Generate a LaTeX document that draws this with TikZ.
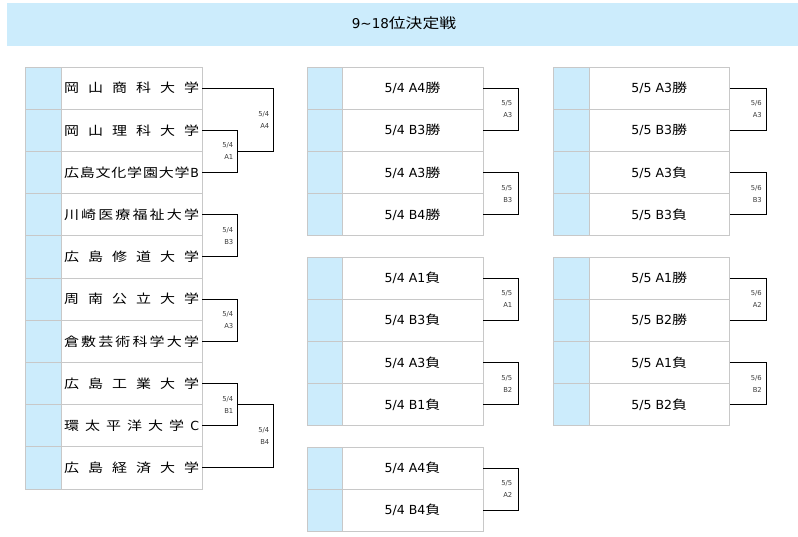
\documentclass[tikz,border=0pt]{standalone}
\usepackage{fontspec}
\setmainfont{DejaVu Sans}
\newfontfamily\cjkfont[FakeStretch=1.2]{Noto Sans CJK JP}
\newcommand\jp[1]{{\cjkfont #1}}
\newcommand\namebox[1]{\makebox[135pt][s]{#1}}
\usetikzlibrary{calc}
\definecolor{hdrblue}{RGB}{204,236,252}
\definecolor{cellgray}{RGB}{200,200,200}
\definecolor{lblgray}{RGB}{60,60,60}
\tikzset{
  namecell/.style={draw=cellgray, line width=0.9pt, minimum width=141pt, minimum height=42.2pt, inner sep=0pt, font=\fontsize{12.5}{14}\selectfont},
  midcell/.style={namecell, minimum width=141pt},
  bluecell/.style={draw=cellgray, line width=0.9pt, fill=hdrblue, minimum width=36pt, minimum height=42.2pt, inner sep=0pt},
  conn/.style={draw=black, line width=0.9pt},
  lbl/.style={font=\fontsize{6.8}{12}\selectfont, text=lblgray, align=right, anchor=east, inner sep=0pt},
}
\newcommand\bracket[6]{% top, bottom, x-coord name, mid name, label, gap
  \draw[conn] (#1) -- (#1 -| #3) -- (#2 -| #3) -- (#2);
  \coordinate (#4) at ($(#1 -| #3)!0.5!(#2 -| #3)$);
  \node[lbl] at ($(#4)+(-#6,0)$) {#5};
}
\begin{document}
\begin{tikzpicture}[x=1pt,y=-1pt]
\useasboundingbox (0,0) rectangle (798,536);
% header
\fill[hdrblue] (7,3) rectangle (798,46);
\node[font=\fontsize{13.5}{15}\selectfont, inner sep=0pt] (title) at (404,23.5) {9\textasciitilde 18{\fontsize{14}{15}\selectfont\jp{位決定戦}}};

% x positions of bracket verticals
\coordinate (xA) at (237,0);
\coordinate (xB) at (273,0);
\coordinate (xM) at (518,0);
\coordinate (xR) at (766,0);

% left table
\foreach \k/\txt in {
  1/{\cjkfont 岡\hfill 山\hfill 商\hfill 科\hfill 大\hfill 学},
  2/{\cjkfont 岡\hfill 山\hfill 理\hfill 科\hfill 大\hfill 学},
  3/{{\cjkfont 広\hfill 島\hfill 文\hfill 化\hfill 学\hfill 園\hfill 大\hfill 学}\hfill B},
  4/{\cjkfont 川\hfill 崎\hfill 医\hfill 療\hfill 福\hfill 祉\hfill 大\hfill 学},
  5/{\cjkfont 広\hfill 島\hfill 修\hfill 道\hfill 大\hfill 学},
  6/{\cjkfont 周\hfill 南\hfill 公\hfill 立\hfill 大\hfill 学},
  7/{\cjkfont 倉\hfill 敷\hfill 芸\hfill 術\hfill 科\hfill 学\hfill 大\hfill 学},
  8/{\cjkfont 広\hfill 島\hfill 工\hfill 業\hfill 大\hfill 学},
  9/{{\cjkfont 環\hfill 太\hfill 平\hfill 洋\hfill 大\hfill 学}\hfill C},
  10/{\cjkfont 広\hfill 島\hfill 経\hfill 済\hfill 大\hfill 学}}{
  \pgfmathsetmacro\yy{67+42.2*(\k-0.5)}
  \node[bluecell] (lb\k) at (43,\yy) {};
  \node[namecell] (l\k) at (131.5,\yy) {\namebox{\txt}};
}

% middle panels
\foreach \nm/\ystart/\lst in {m/67/{5/4 A4\jp{勝},5/4 B3\jp{勝},5/4 A3\jp{勝},5/4 B4\jp{勝}},
                          n/257/{5/4 A1\jp{負},5/4 B3\jp{負},5/4 A3\jp{負},5/4 B1\jp{負}},
                          p/447/{5/4 A4\jp{負},5/4 B4\jp{負}}}{
  \foreach \tx [count=\k] in \lst {
    \pgfmathsetmacro\yy{\ystart+42.2*(\k-0.5)}
    \node[bluecell, minimum width=35pt] (\nm b\k) at (324.5,\yy) {};
    \node[midcell] (\nm\k) at (412.5,\yy) {\tx};
  }
}

% right panels
\foreach \nm/\ystart/\lst in {r/67/{5/5 A3\jp{勝},5/5 B3\jp{勝},5/5 A3\jp{負},5/5 B3\jp{負}},
                          s/257/{5/5 A1\jp{勝},5/5 B2\jp{勝},5/5 A1\jp{負},5/5 B2\jp{負}}}{
  \foreach \tx [count=\k] in \lst {
    \pgfmathsetmacro\yy{\ystart+42.2*(\k-0.5)}
    \node[bluecell] (\nm b\k) at (571,\yy) {};
    \node[midcell, minimum width=140.5pt] (\nm\k) at (659.25,\yy) {\tx};
  }
}

% left brackets
\bracket{l2.east}{l3.east}{xA}{c23}{5/4\\A1}{3.5}
\bracket{l1.east}{c23}{xB}{c123}{5/4\\A4}{3.5}
\bracket{l4.east}{l5.east}{xA}{c45}{5/4\\B3}{3.5}
\bracket{l6.east}{l7.east}{xA}{c67}{5/4\\A3}{3.5}
\bracket{l8.east}{l9.east}{xA}{c89}{5/4\\B1}{3.5}
\bracket{c89}{l10.east}{xB}{c8910}{5/4\\B4}{3.5}

% middle brackets
\bracket{m1.east}{m2.east}{xM}{cm12}{5/5\\A3}{5.5}
\bracket{m3.east}{m4.east}{xM}{cm34}{5/5\\B3}{5.5}
\bracket{n1.east}{n2.east}{xM}{cn12}{5/5\\A1}{5.5}
\bracket{n3.east}{n4.east}{xM}{cn34}{5/5\\B2}{5.5}
\bracket{p1.east}{p2.east}{xM}{cp12}{5/5\\A2}{5.5}

% right brackets
\bracket{r1.east}{r2.east}{xR}{cr12}{5/6\\A3}{4}
\bracket{r3.east}{r4.east}{xR}{cr34}{5/6\\B3}{4}
\bracket{s1.east}{s2.east}{xR}{cs12}{5/6\\A2}{4}
\bracket{s3.east}{s4.east}{xR}{cs34}{5/6\\B2}{4}
\end{tikzpicture}
\end{document}
